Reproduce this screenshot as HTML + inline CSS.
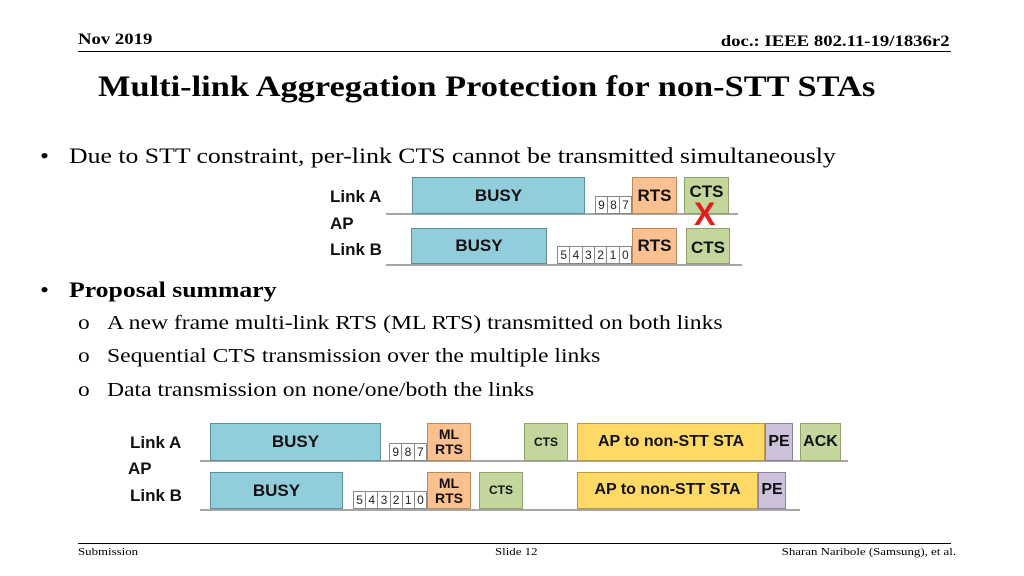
<!DOCTYPE html>
<html><head><meta charset="utf-8">
<style>
body{margin:0;width:1024px;height:576px;background:#fff;position:relative;overflow:hidden;font-family:"Liberation Serif",serif;}
.a{position:absolute;}
.t{font-family:"Liberation Serif",serif;color:#000;white-space:nowrap;transform:scaleX(1.17);transform-origin:left top;}
.tr{transform-origin:right top;}
.box{position:absolute;box-sizing:border-box;border:1px solid #7f7f7f;display:flex;align-items:center;justify-content:center;font-family:"Liberation Sans",sans-serif;font-weight:bold;color:#111;text-align:center;line-height:1.05;}
.busy{background:#92CDDC;border-color:#5a8fa0;}
.rts{background:#FAC090;border-color:#b98a62;}
.cts{background:#C3D69B;border-color:#8fa36a;}
.yel{background:#FFD966;border-color:#b99a3c;}
.pe{background:#CCC0DA;border-color:#8c7fa0;}
.nums{position:absolute;display:flex;height:18px;}
.nums span{flex:1;box-sizing:border-box;border:1px solid #888;border-left:none;background:#fff;font-family:"Liberation Sans",sans-serif;font-size:12px;display:flex;align-items:center;justify-content:center;color:#222;}
.nums span:first-child{border-left:1px solid #888;}
.ln{position:absolute;height:2px;background:#a6a6a6;}
.lbl{position:absolute;font-family:"Liberation Sans",sans-serif;font-weight:bold;font-size:17px;color:#111;}
</style></head><body>
<div class="a t" style="left:78px;top:31px;font-size:16px;font-weight:bold;">Nov 2019</div>
<div class="a t tr" style="right:74px;top:33px;font-size:16px;font-weight:bold;">doc.: IEEE 802.11-19/1836r2</div>
<div class="a" style="left:78px;top:51px;width:873px;height:1px;background:#000;"></div>
<div class="a t" style="left:98px;top:71px;font-size:29.4px;font-weight:bold;">Multi-link Aggregation Protection for non-STT STAs</div>
<div class="a t" style="left:40px;top:143px;font-size:22px;">•</div>
<div class="a t" style="left:69px;top:143px;font-size:22px;">Due to STT constraint, per-link CTS cannot be transmitted simultaneously</div>

<!-- diagram 1 -->
<div>
<div class="lbl" style="left:330px;top:187px;">Link A</div>
<div class="lbl" style="left:330px;top:214px;">AP</div>
<div class="lbl" style="left:330px;top:240px;">Link B</div>
<div class="ln" style="left:386px;top:213px;width:352px;"></div>
<div class="ln" style="left:386px;top:264px;width:356px;"></div>
<div class="box busy" style="left:412px;top:177px;width:173px;height:37px;font-size:17px;">BUSY</div>
<div class="nums" style="left:595px;top:196px;width:37px;"><span>9</span><span>8</span><span>7</span></div>
<div class="box rts" style="left:632px;top:177px;width:45px;height:37px;font-size:17px;">RTS</div>
<div class="box cts" style="left:684px;top:177px;width:45px;height:37px;font-size:17px;align-items:flex-start;padding-top:5px;">CTS</div>
<div class="box busy" style="left:411px;top:228px;width:136px;height:36px;font-size:17px;">BUSY</div>
<div class="nums" style="left:557px;top:246px;width:75px;"><span>5</span><span>4</span><span>3</span><span>2</span><span>1</span><span>0</span></div>
<div class="box rts" style="left:632px;top:228px;width:45px;height:36px;font-size:17px;">RTS</div>
<div class="box cts" style="left:686px;top:228px;width:44px;height:36px;font-size:17px;padding-top:4px;">CTS</div>
<div class="a" style="left:694px;top:196px;font-family:'Liberation Sans',sans-serif;font-weight:bold;font-size:32px;color:#e31b1b;">X</div>
</div>

<div class="a t" style="left:40px;top:277px;font-size:22px;">•</div>
<div class="a t" style="left:69px;top:277px;font-size:22px;font-weight:bold;">Proposal summary</div>
<div class="a t" style="left:78px;top:312px;font-size:20px;">o</div>
<div class="a t" style="left:107px;top:312px;font-size:20.2px;">A new frame multi-link RTS (ML RTS) transmitted on both links</div>
<div class="a t" style="left:78px;top:345px;font-size:20px;">o</div>
<div class="a t" style="left:107px;top:345px;font-size:20.2px;">Sequential CTS transmission over the multiple links</div>
<div class="a t" style="left:78px;top:379px;font-size:20px;">o</div>
<div class="a t" style="left:107px;top:379px;font-size:20.2px;">Data transmission on none/one/both the links</div>

<!-- diagram 2 -->
<div>
<div class="lbl" style="left:130px;top:433px;">Link A</div>
<div class="lbl" style="left:128px;top:459px;">AP</div>
<div class="lbl" style="left:130px;top:486px;">Link B</div>
<div class="ln" style="left:200px;top:460px;width:648px;"></div>
<div class="ln" style="left:200px;top:509px;width:600px;"></div>
<div class="box busy" style="left:210px;top:423px;width:171px;height:38px;font-size:17px;">BUSY</div>
<div class="nums" style="left:389px;top:443px;width:38px;"><span>9</span><span>8</span><span>7</span></div>
<div class="box rts" style="left:427px;top:423px;width:44px;height:38px;font-size:14px;">ML<br>RTS</div>
<div class="box cts" style="left:524px;top:423px;width:44px;height:38px;font-size:12px;">CTS</div>
<div class="box yel" style="left:577px;top:423px;width:188px;height:38px;font-size:16px;">AP to non-STT STA</div>
<div class="box pe" style="left:765px;top:423px;width:28px;height:38px;font-size:16px;">PE</div>
<div class="box cts" style="left:800px;top:423px;width:41px;height:38px;font-size:16px;">ACK</div>
<div class="box busy" style="left:210px;top:472px;width:133px;height:37px;font-size:17px;">BUSY</div>
<div class="nums" style="left:353px;top:491px;width:74px;"><span>5</span><span>4</span><span>3</span><span>2</span><span>1</span><span>0</span></div>
<div class="box rts" style="left:427px;top:472px;width:44px;height:37px;font-size:14px;">ML<br>RTS</div>
<div class="box cts" style="left:479px;top:472px;width:44px;height:37px;font-size:12px;">CTS</div>
<div class="box yel" style="left:577px;top:472px;width:181px;height:37px;font-size:16px;">AP to non-STT STA</div>
<div class="box pe" style="left:758px;top:472px;width:28px;height:37px;font-size:16px;">PE</div>
</div>

<div class="a" style="left:78px;top:543px;width:873px;height:1px;background:#000;"></div>
<div class="a t" style="left:78px;top:546px;font-size:11px;">Submission</div>
<div class="a t" style="left:495px;top:546px;font-size:11px;">Slide 12</div>
<div class="a t tr" style="right:68px;top:546px;font-size:11px;">Sharan Naribole (Samsung), et al.</div>
</body></html>
